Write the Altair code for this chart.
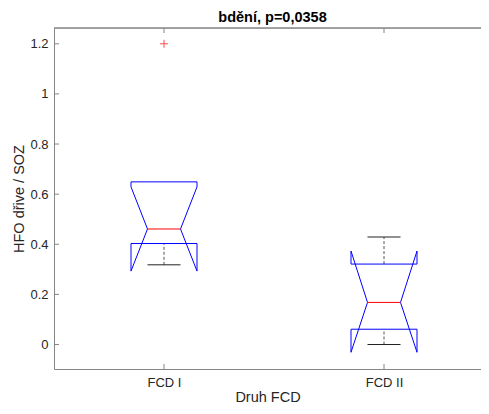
import altair as alt
import pandas as pd

groups = ["FCD I", "FCD II"]
positions = [1, 2]
q1 = [0.403, 0.061]
median = [0.461, 0.168]
q3 = [0.649, 0.321]
notch_lo = [0.293, -0.031]
notch_hi = [0.629, 0.373]
whisk_lo = [0.318, 0.0]
whisk_hi = [0.649, 0.429]
outlier_group = [1]
outlier_value = [1.2]
y_ticks = [0, 0.2, 0.4, 0.6, 0.8, 1.0, 1.2]

W = 427
H = 341
BW = 0.15  # half box width
AX = "#868686"
FONT = "Liberation Sans"

# outline of notched boxes
rows = []
for i, p in enumerate(positions):
    xs_ = [-BW, -BW, -BW / 2, -BW, -BW, BW, BW, BW / 2, BW, BW, -BW]
    ys_ = [q1[i], notch_lo[i], median[i], notch_hi[i], q3[i], q3[i],
           notch_hi[i], median[i], notch_lo[i], q1[i], q1[i]]
    for k, (dx, yy) in enumerate(zip(xs_, ys_)):
        rows.append({"g": groups[i], "x": p + dx, "y": yy, "o": k})
outline = pd.DataFrame(rows)

stats = pd.DataFrame({
    "g": groups, "x": positions,
    "xl": [p - BW / 2 for p in positions], "xr": [p + BW / 2 for p in positions],
    "q1": q1, "med": median, "q3": q3, "wlo": whisk_lo, "whi": whisk_hi,
})
outl = pd.DataFrame({"x": outlier_group, "y": outlier_value})
yt = pd.DataFrame({"v": y_ticks})
xt = pd.DataFrame({"v": positions})

xs = alt.Scale(domain=[0.5, 0.5 + W / 220], nice=False, zero=False)
ys = alt.Scale(domain=[-0.0977, 1.263], nice=False, zero=False)

label_expr = "datum.value == 1 ? 'FCD I' : (datum.value == 2 ? 'FCD II' : '')"
ylabel_expr = "datum.value == 0 ? '0' : (abs(datum.value - 1) < 0.001 ? '1' : format(datum.value, '.1f'))"

xenc = alt.X("x:Q", scale=xs, title="Druh FCD",
             axis=alt.Axis(values=positions, labelExpr=label_expr, grid=False,
                           tickSize=0, domainColor=AX, labelColor="#262626",
                           labelFont=FONT, labelFontSize=13, labelPadding=7,
                           titleFont=FONT, titleFontSize=14.5, titleFontWeight="normal",
                           titleColor="#262626", titlePadding=1))
yenc = alt.Y("y:Q", scale=ys, title="HFO dřive / SOZ",
             axis=alt.Axis(values=y_ticks, labelExpr=ylabel_expr, grid=False,
                           tickSize=0, domainColor=AX, labelColor="#262626",
                           labelFont=FONT, labelFontSize=13, labelPadding=6,
                           titleFont=FONT, titleFontSize=14.5, titleFontWeight="normal",
                           titleColor="#262626", titlePadding=3))

box = alt.Chart(outline).mark_line(color="#0000ff", strokeWidth=1).encode(
    x=xenc, y=yenc, detail="g:N", order="o:Q")

med_rule = alt.Chart(stats).mark_rule(color="#ff0000", strokeWidth=1).encode(
    x=alt.X("xl:Q", scale=xs), x2="xr:Q", y=alt.Y("med:Q", scale=ys))

wh_up = alt.Chart(stats).transform_filter("datum.whi > datum.q3").mark_rule(
    color="#555555", strokeWidth=1, strokeDash=[3, 2]).encode(
    x=alt.X("x:Q", scale=xs), y=alt.Y("q3:Q", scale=ys), y2="whi:Q")
wh_lo = alt.Chart(stats).transform_filter("datum.wlo < datum.q1").mark_rule(
    color="#555555", strokeWidth=1, strokeDash=[3, 2]).encode(
    x=alt.X("x:Q", scale=xs), y=alt.Y("wlo:Q", scale=ys), y2="q1:Q")

cap_up = alt.Chart(stats).transform_filter("datum.whi > datum.q3").mark_rule(
    color="#222222", strokeWidth=1).encode(
    x=alt.X("xl:Q", scale=xs), x2="xr:Q", y=alt.Y("whi:Q", scale=ys))
cap_lo = alt.Chart(stats).transform_filter("datum.wlo < datum.q1").mark_rule(
    color="#222222", strokeWidth=1).encode(
    x=alt.X("xl:Q", scale=xs), x2="xr:Q", y=alt.Y("wlo:Q", scale=ys))

out_pts = alt.Chart(outl).mark_point(
    shape="M-1,0L1,0M0,-1L0,1", filled=False, color="#ff0000", strokeWidth=1, size=64
).encode(x=alt.X("x:Q", scale=xs), y=alt.Y("y:Q", scale=ys))

ytick_marks = alt.Chart(yt).mark_rule(color=AX, strokeWidth=1).encode(
    y=alt.Y("v:Q", scale=ys), x=alt.value(0), x2=alt.value(5))
xtick_bot = alt.Chart(xt).mark_rule(color=AX, strokeWidth=1).encode(
    x=alt.X("v:Q", scale=xs), y=alt.value(H), y2=alt.value(H - 5))
xtick_top = alt.Chart(xt).mark_rule(color=AX, strokeWidth=1).encode(
    x=alt.X("v:Q", scale=xs), y=alt.value(0), y2=alt.value(5))
top_border = alt.Chart(xt).mark_rule(color=AX, strokeWidth=1).encode(
    x=alt.value(0), x2=alt.value(W), y=alt.value(0))

chart = alt.layer(
    wh_up, wh_lo, cap_up, cap_lo, box, med_rule, out_pts,
    ytick_marks, xtick_bot, xtick_top, top_border
).properties(
    width=W, height=H,
    title=alt.TitleParams("bdění, p=0,0358", font=FONT, fontSize=14.5, fontWeight="bold",
                          color="#000000", anchor="middle", offset=2, dx=5),
    autosize=alt.AutoSizeParams(type="none"),
    padding={"left": 46, "top": 20, "right": 0, "bottom": 36},
).configure_view(stroke=None).configure(background="white")

chart.save("out.html", embed_options={"renderer": "svg", "actions": False})
